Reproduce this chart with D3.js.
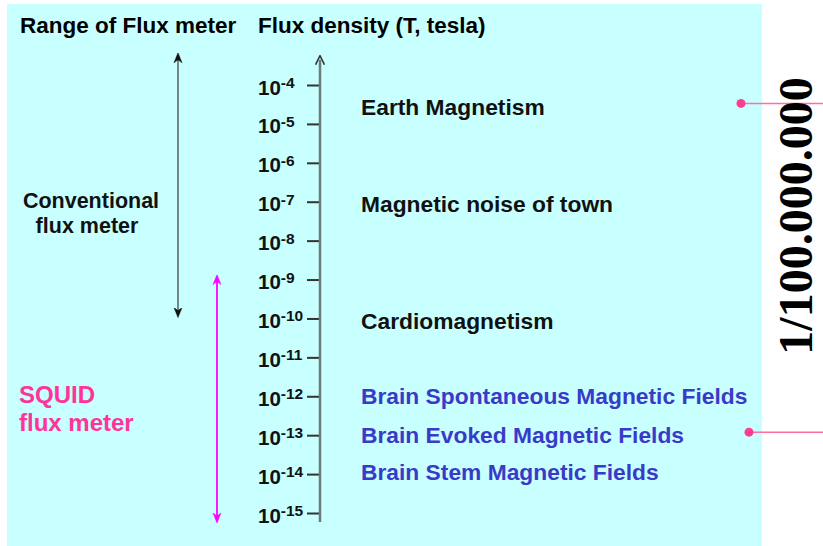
<!DOCTYPE html>
<html>
<head>
<meta charset="utf-8">
<script src="https://cdn.jsdelivr.net/npm/d3@7"></script>
<style>
  body { margin: 0; background: #fff; }
  text { font-family: "Liberation Sans", Arial, sans-serif; font-weight: bold; }
</style>
</head>
<body>
<div id="chart"></div>
<script>
// tick exponents of the flux density axis (10^exp tesla)
var tickExponents = [-4, -5, -6, -7, -8, -9, -10, -11, -12, -13, -14, -15];

// phenomena placed on the scale
var phenomenaLabels = ["Earth Magnetism", "Magnetic noise of town", "Cardiomagnetism",
                       "Brain Spontaneous Magnetic Fields", "Brain Evoked Magnetic Fields",
                       "Brain Stem Magnetic Fields"];
var phenomenaExp = [-4.55, -7.05, -10.05, -12, -13, -13.95];
var phenomenaGroup = ["other", "other", "other", "brain", "brain", "brain"];

// ranges of the two kinds of flux meter (exponents)
var meterNames = ["Conventional", "SQUID"];
var meterTop = [-3.3, -9.0];
var meterBottom = [-9.85, -15.13];

// ratio between earth magnetism and brain evoked fields
var ratioLabel = "1/100.000.000";
var ratioEnds = [-4.55, -13];

var width = 823, height = 546;

var svg = d3.select("#chart")
  .append("svg")
    .attr("width", width)
    .attr("height", height);

// panel background
svg.append("rect")
  .attr("x", 7).attr("y", 4)
  .attr("width", 755).attr("height", height - 4)
  .attr("fill", "#c8ffff");

var y = d3.scaleLog()
  .domain([1e-4, 1e-15])
  .range([85, 513]);

var axisX = 320;

// headers
svg.append("text").attr("x", 20).attr("y", 33)
  .style("font-size", "22.5px").text("Range of Flux meter");
svg.append("text").attr("x", 258).attr("y", 33)
  .style("font-size", "22.5px").text("Flux density (T, tesla)");

// arrow markers
var defs = svg.append("defs");
function marker(id, color, path) {
  defs.append("marker")
    .attr("id", id)
    .attr("viewBox", "0 0 10 10")
    .attr("refX", 5).attr("refY", 5)
    .attr("markerWidth", 10).attr("markerHeight", 10)
    .attr("markerUnits", "userSpaceOnUse")
    .attr("orient", "auto-start-reverse")
  .append("path")
    .attr("d", path)
    .attr("fill", path.indexOf("Z") > 0 ? color : "none")
    .attr("stroke", color)
    .attr("stroke-width", path.indexOf("Z") > 0 ? 0.5 : 1.6);
}
marker("headBlack", "#111", "M0,1 L10,5 L0,9 L3,5 Z");
marker("headMag", "#ff00ff", "M0,1 L10,5 L0,9 L3,5 Z");
marker("headOpen", "#333", "M0,0.5 L9,5 L0,9.5");

// flux density axis
var axis = d3.axisLeft(y)
  .tickValues(tickExponents.map(function(e) { return Math.pow(10, e); }))
  .tickSize(13)
  .tickFormat(function() { return ""; });

var gAxis = svg.append("g")
  .attr("transform", "translate(" + axisX + ",0)")
  .call(axis);
gAxis.select(".domain").remove();
gAxis.selectAll(".tick line").attr("stroke", "#333").attr("stroke-width", 2);

gAxis.selectAll(".tick text")
  .attr("fill", "#111")
  .attr("x", 258 - axisX)
  .attr("text-anchor", "start")
  .style("font-size", "20.5px")
  .style("font-weight", "bold")
  .attr("dy", "9px")
  .each(function(d, i) {
    var t = d3.select(this);
    t.append("tspan").text("10");
    t.append("tspan").attr("dy", "-6.5px").style("font-size", "15.5px").text(tickExponents[i]);
  });

svg.append("line")
  .attr("x1", axisX).attr("x2", axisX)
  .attr("y1", y(Math.pow(10, -15.23))).attr("y2", y(Math.pow(10, -3.35)))
  .attr("stroke", "#6e7878").attr("stroke-width", 2.5)
  .attr("marker-end", "url(#headOpen)");

// phenomena labels
svg.append("g")
  .selectAll("text")
  .data(phenomenaLabels)
  .enter()
  .append("text")
    .attr("x", 361)
    .attr("y", function(d, i) { return y(Math.pow(10, phenomenaExp[i])); })
    .attr("dy", "0.36em")
    .attr("fill", function(d, i) { return phenomenaGroup[i] == "brain" ? "#3a3ac8" : "#111"; })
    .style("font-size", "22.8px")
    .text(function(d) { return d; });

// meter range arrows
var meterX = [178, 217];
var meterColor = ["#6e7878", "#ff00ff"];
var meterHead = ["headBlack", "headMag"];
meterNames.forEach(function(m, i) {
  svg.append("line")
    .attr("x1", meterX[i]).attr("x2", meterX[i])
    .attr("y1", y(Math.pow(10, meterTop[i])))
    .attr("y2", y(Math.pow(10, meterBottom[i])))
    .attr("stroke", meterColor[i]).attr("stroke-width", 1.8)
    .attr("marker-start", "url(#" + meterHead[i] + ")")
    .attr("marker-end", "url(#" + meterHead[i] + ")");
});

// meter labels (two lines each)
var conv = svg.append("text").attr("text-anchor", "middle")
  .style("font-size", "21.5px").attr("fill", "#111");
conv.append("tspan").attr("x", 91).attr("y", 208).text(meterNames[0]);
conv.append("tspan").attr("x", 87).attr("y", 233).text("flux meter");

var squid = svg.append("text")
  .style("font-size", "24px").attr("fill", "#ff3399");
squid.append("tspan").attr("x", 19).attr("y", 403).text(meterNames[1]);
squid.append("tspan").attr("x", 19).attr("y", 431).text("flux meter");

// ratio leaders
var leaderStart = [741, 749];
ratioEnds.forEach(function(e, i) {
  var yy = y(Math.pow(10, e)) - 3;
  svg.append("line")
    .attr("x1", leaderStart[i]).attr("x2", width)
    .attr("y1", yy).attr("y2", yy)
    .attr("stroke", "#ff6fa0").attr("stroke-width", 1.5);
  svg.append("circle")
    .attr("cx", leaderStart[i]).attr("cy", yy).attr("r", 4.5)
    .attr("fill", "#ff3d8f");
});

svg.append("text")
  .attr("transform", "translate(812,216) rotate(-90)")
  .attr("text-anchor", "middle")
  .style("font-family", "'Liberation Serif', 'Times New Roman', serif")
  .style("font-size", "48px")
  .attr("fill", "#000")
  .text(ratioLabel);
</script>
</body>
</html>
